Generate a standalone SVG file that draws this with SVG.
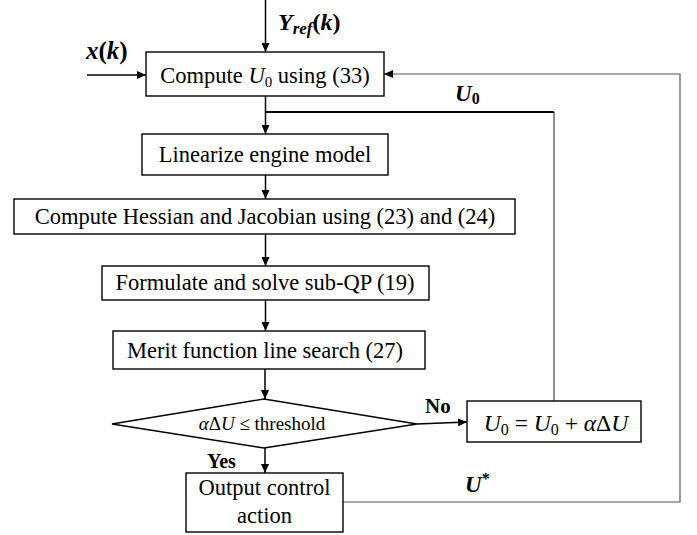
<svg xmlns="http://www.w3.org/2000/svg" width="697" height="535" viewBox="0 0 697 535">
<defs>
<marker id="ah" markerUnits="userSpaceOnUse" markerWidth="9" markerHeight="8" refX="9" refY="4" orient="auto">
<path d="M0,0 L9,4 L0,8 z" fill="#000"/>
</marker>
<style>
.box{fill:#fff;stroke:#000;stroke-width:1.4}
.t{font-family:"Liberation Serif","Times New Roman",serif;font-size:22.5px;fill:#000;text-anchor:middle}
.lbl{font-family:"Liberation Serif","Times New Roman",serif;font-weight:bold;fill:#000}
.ln{fill:none;stroke:#000;stroke-width:1.5}
.thick{fill:none;stroke:#000;stroke-width:2.2}
.thin{fill:none;stroke:#333;stroke-width:1.1}
.gray{fill:none;stroke:#555;stroke-width:1.2}
</style>
</defs>
<rect width="697" height="535" fill="#fff"/>
<g id="connectors">
<line class="ln" x1="265.5" y1="0" x2="265.5" y2="52" marker-end="url(#ah)"/>
<line class="ln" x1="87" y1="75" x2="146" y2="75" marker-end="url(#ah)"/>
<line class="ln" x1="265.5" y1="96" x2="265.5" y2="134" marker-end="url(#ah)"/>
<path class="thick" d="M265.5,112 H554"/>
<path class="thin" d="M554,112 V401"/>
<line class="ln" x1="265.5" y1="175" x2="265.5" y2="199" marker-end="url(#ah)"/>
<line class="ln" x1="265.5" y1="234" x2="265.5" y2="266" marker-end="url(#ah)"/>
<line class="ln" x1="265.5" y1="300" x2="265.5" y2="331" marker-end="url(#ah)"/>
<line class="ln" x1="265" y1="369" x2="265" y2="399" marker-end="url(#ah)"/>
<line class="ln" x1="417" y1="424" x2="467" y2="422" marker-end="url(#ah)"/>
<line class="ln" x1="265" y1="448" x2="265" y2="473" marker-end="url(#ah)"/>
<path class="gray" d="M343,502 H680 V74 H384" marker-end="url(#ah)"/>
</g>
<g id="lbl-yref">
<text class="lbl" x="278" y="30" font-size="24"><tspan font-style="italic">Y</tspan><tspan font-style="italic" font-size="17" dy="4">ref</tspan><tspan dy="-4">(</tspan><tspan font-style="italic">k</tspan><tspan>)</tspan></text>
</g>
<g id="lbl-xk">
<text class="lbl" x="86" y="59" font-size="25"><tspan font-style="italic">x</tspan>(<tspan font-style="italic">k</tspan>)</text>
</g>
<g id="lbl-u0">
<text class="lbl" x="455" y="101" font-size="23"><tspan font-style="italic">U</tspan><tspan font-size="16" dy="3">0</tspan></text>
</g>
<g id="lbl-ustar">
<text class="lbl" x="465" y="492" font-size="23"><tspan font-style="italic">U</tspan><tspan font-size="16" dy="-8">*</tspan></text>
</g>
<g id="lbl-no"><text class="lbl" x="425" y="413" font-size="21">No</text></g>
<g id="lbl-yes"><text class="lbl" x="207" y="468" font-size="20">Yes</text></g>
<g id="n1">
<rect class="box" x="146" y="52" width="238" height="44"/>
<text class="t" x="265" y="83">Compute <tspan font-style="italic">U</tspan><tspan font-size="15" dy="4">0</tspan><tspan dy="-4"> using (33)</tspan></text>
</g>
<g id="n2">
<rect class="box" x="142" y="134" width="246" height="41"/>
<text class="t" x="265" y="162">Linearize engine model</text>
</g>
<g id="n3">
<rect class="box" x="14" y="199" width="501" height="35"/>
<text class="t" x="265" y="224">Compute Hessian and Jacobian using (23) and (24)</text>
</g>
<g id="n4">
<rect class="box" x="102" y="266" width="327" height="34"/>
<text class="t" x="265" y="290">Formulate and solve sub-QP (19)</text>
</g>
<g id="n5">
<rect class="box" x="113" y="331" width="312" height="38"/>
<text class="t" x="265" y="358">Merit function line search (27)</text>
</g>
<g id="n6">
<path class="box" d="M112,424 L264,399 L417,424 L264,448 z"/>
<text class="t" x="262" y="430" style="font-size:19px"><tspan font-style="italic">α</tspan>Δ<tspan font-style="italic">U</tspan> ≤ threshold</text>
</g>
<g id="n7">
<rect class="box" x="467" y="401" width="174" height="41"/>
<text class="t" x="556" y="431" style="font-size:23.5px"><tspan font-style="italic">U</tspan><tspan style="font-size:16px" dy="4">0</tspan><tspan dy="-4"> = </tspan><tspan font-style="italic">U</tspan><tspan style="font-size:16px" dy="4">0</tspan><tspan dy="-4"> + </tspan><tspan font-style="italic">α</tspan>Δ<tspan font-style="italic">U</tspan></text>
</g>
<g id="n8">
<rect class="box" x="186" y="473" width="157" height="59"/>
<text class="t" x="264.5" y="495">Output control</text>
<text class="t" x="264.5" y="523">action</text>
</g>
</svg>
